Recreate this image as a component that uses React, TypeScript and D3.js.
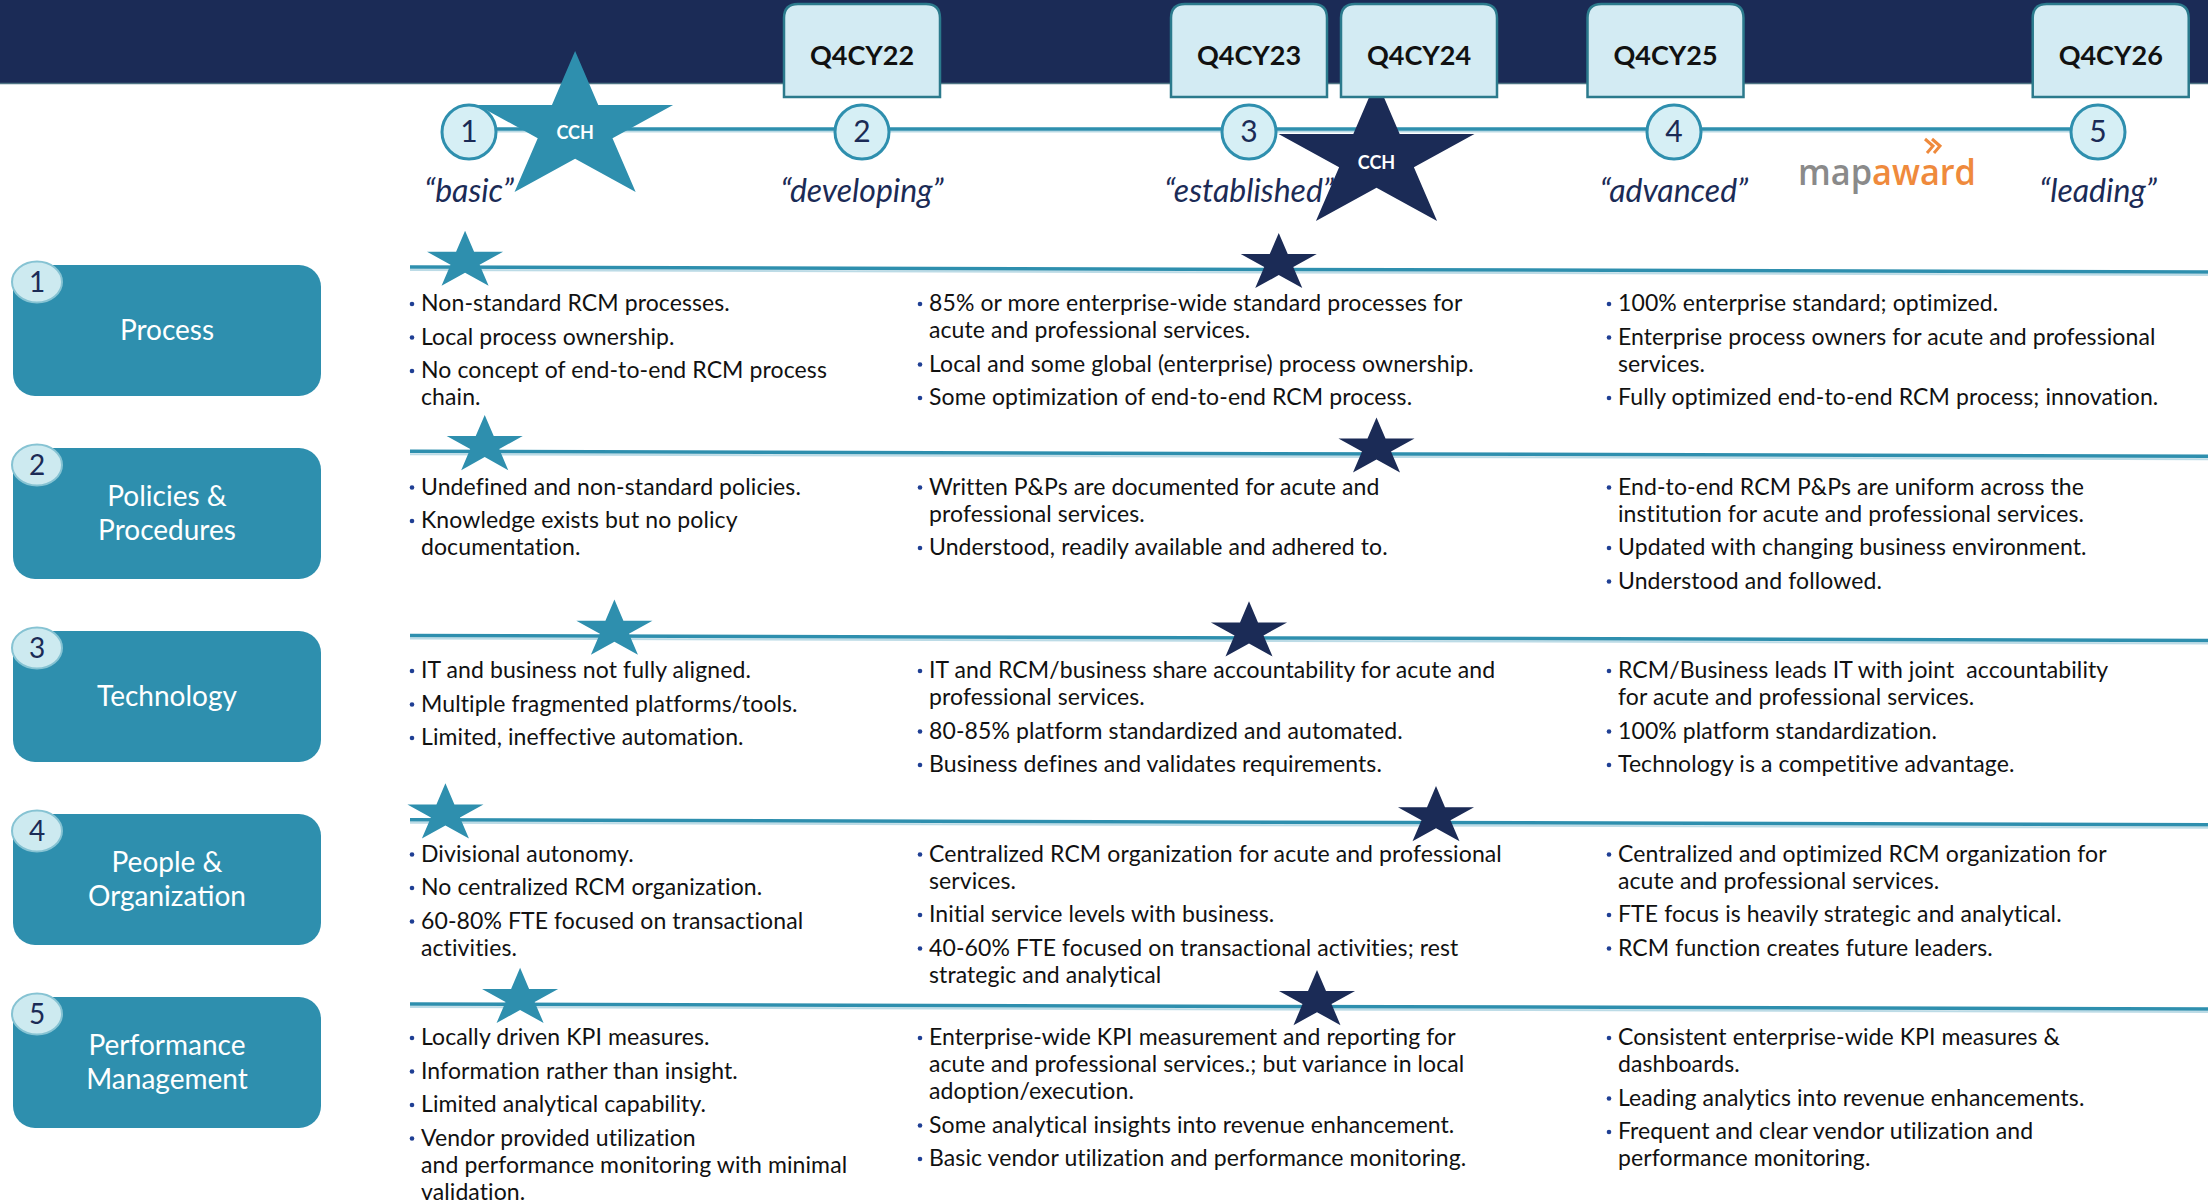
import React from 'react';
import * as d3 from 'd3';

// canvas
const W = 2208;
const H = 1204;

// maturity levels along the top timeline
const levels = [1, 2, 3, 4, 5];
const levelNames = ['“basic”', '“developing”', '“established”', '“advanced”', '“leading”'];

// milestone tabs and the level each one sits at
const milestones = ['Q4CY22', 'Q4CY23', 'Q4CY24', 'Q4CY25', 'Q4CY26'];
const milestoneLevels = [2.0, 3.0, 3.4, 3.98, 5.03];

// overall CCH position: today and target
const cchCurrent = 1.27;
const cchTarget = 3.3;

// the five dimensions
const dimensions = [
  ['Process'],
  ['Policies &', 'Procedures'],
  ['Technology'],
  ['People &', 'Organization'],
  ['Performance', 'Management'],
];
const currentLevels = [0.99, 1.04, 1.37, 0.94, 1.13];
const targetLevels = [3.07, 3.3, 3.0, 3.44, 3.16];

// bullet text per column (each item is a list of wrapped lines)
const basicText = [
  [['Non-standard RCM processes.'], ['Local process ownership.'], ['No concept of end-to-end RCM process', 'chain.']],
  [['Undefined and non-standard policies.'], ['Knowledge exists but no policy', 'documentation.']],
  [['IT and business not fully aligned.'], ['Multiple fragmented platforms/tools.'], ['Limited, ineffective automation.']],
  [['Divisional autonomy.'], ['No centralized RCM organization.'], ['60-80% FTE focused on transactional', 'activities.']],
  [
    ['Locally driven KPI measures.'],
    ['Information rather than insight.'],
    ['Limited analytical capability.'],
    ['Vendor provided utilization', 'and performance monitoring with minimal', 'validation.'],
  ],
];
const establishedText = [
  [
    ['85% or more enterprise-wide standard processes for', 'acute and professional services.'],
    ['Local and some global (enterprise) process ownership.'],
    ['Some optimization of end-to-end RCM process.'],
  ],
  [['Written P&Ps are documented for acute and', 'professional services.'], ['Understood, readily available and adhered to.']],
  [
    ['IT and RCM/business share accountability for acute and', 'professional services.'],
    ['80-85% platform standardized and automated.'],
    ['Business defines and validates requirements.'],
  ],
  [
    ['Centralized RCM organization for acute and professional', 'services.'],
    ['Initial service levels with business.'],
    ['40-60% FTE focused on transactional activities; rest', 'strategic and analytical'],
  ],
  [
    ['Enterprise-wide KPI measurement and reporting for', 'acute and professional services.; but variance in local', 'adoption/execution.'],
    ['Some analytical insights into revenue enhancement.'],
    ['Basic vendor utilization and performance monitoring.'],
  ],
];
const leadingText = [
  [
    ['100% enterprise standard; optimized.'],
    ['Enterprise process owners for acute and professional', 'services.'],
    ['Fully optimized end-to-end RCM process; innovation.'],
  ],
  [
    ['End-to-end RCM P&Ps are uniform across the', 'institution for acute and professional services.'],
    ['Updated with changing business environment.'],
    ['Understood and followed.'],
  ],
  [
    ['RCM/Business leads IT with joint  accountability', 'for acute and professional services.'],
    ['100% platform standardization.'],
    ['Technology is a competitive advantage.'],
  ],
  [
    ['Centralized and optimized RCM organization for', 'acute and professional services.'],
    ['FTE focus is heavily strategic and analytical.'],
    ['RCM function creates future leaders.'],
  ],
  [
    ['Consistent enterprise-wide KPI measures &', 'dashboards.'],
    ['Leading analytics into revenue enhancements.'],
    ['Frequent and clear vendor utilization and', 'performance monitoring.'],
  ],
];
const columns = [basicText, establishedText, leadingText];

const NAVY = '#1b2b56';
const TEAL = '#2e8fae';
const BODY_FONT = 'Lato, "Open Sans", sans-serif';

const x = d3.scaleLinear().domain(levels).range([469, 862, 1249, 1674, 2098]);
const rowRule = d3.scaleLinear().domain([0, 4]).range([267, 1004]);
const rowText = d3.scaleLinear().domain([0, 4]).range([311, 1045]);
const rowMid = d3.scaleLinear().domain([0, 4]).range([330, 1062]);
const colX = [421, 929, 1618];

const ruleX0 = 410;
const ruleAt = (i: number, xx: number) => rowRule(i) + (5 * (xx - ruleX0)) / (W - ruleX0);

// unit star (outer radius 1), stretched per use
const starPath = d3.symbol(d3.symbolStar, 1 / 0.8908130915292852)() as string;

const tabPath = (x0: number, y0: number, w: number, h: number, r: number) =>
  `M${x0},${y0 + h}V${y0 + r}Q${x0},${y0} ${x0 + r},${y0}H${x0 + w - r}Q${x0 + w},${y0} ${x0 + w},${y0 + r}V${y0 + h}Z`;

function Bullets({ items, x0, y0 }: { items: string[][]; x0: number; y0: number }) {
  let y = y0;
  const out: React.ReactNode[] = [];
  items.forEach((lines, k) => {
    out.push(<circle key={'b' + k} cx={x0 - 9} cy={y - 7} r={2.3} fill="#1f3f94" />);
    lines.forEach((ln, j) => {
      out.push(
        <text key={k + '-' + j} x={x0} y={y} xmlSpace="preserve">
          {ln}
        </text>
      );
      y += 27;
    });
    y += 6.5;
  });
  return <g>{out}</g>;
}

export default function App() {
  const tlY = 129;
  return (
    <svg
      width={W}
      height={H}
      viewBox={`0 0 ${W} ${H}`}
      style={{ position: 'absolute', left: 0, top: 0, background: '#fff' }}
    >
      {/* header band */}
      <rect x={0} y={0} width={W} height={83} fill={NAVY} />
      <line x1={0} x2={W} y1={83.5} y2={83.5} stroke="#4f7585" strokeWidth={1.5} />

      {/* timeline */}
      <line x1={x(1)} x2={x(5) + 25} y1={tlY + 2.5} y2={tlY + 2.5} stroke="#b9d9e4" strokeWidth={2} />
      <line x1={x(1)} x2={x(5) + 25} y1={tlY} y2={tlY} stroke={TEAL} strokeWidth={3.5} />
      {levels.map((l) => (
        <g key={l}>
          <circle cx={x(l)} cy={132} r={27} fill="#d6eff5" stroke={TEAL} strokeWidth={3} />
          <text x={x(l)} y={142} textAnchor="middle" fontFamily={BODY_FONT} fontSize={30} fill={NAVY}>
            {l}
          </text>
        </g>
      ))}
      {levels.map((l, i) => (
        <text
          key={'n' + l}
          x={x(l)}
          y={202}
          textAnchor="middle"
          fontFamily={BODY_FONT}
          fontStyle="italic"
          fontSize={32}
          fill={NAVY}
        >
          {levelNames[i]}
        </text>
      ))}

      {/* mapaward mark */}
      <g>
        <text
          x={1798}
          y={185}
          fontFamily='"Open Sans", sans-serif'
          fontWeight={600}
          fontSize={36}
          textLength={178}
          lengthAdjust="spacingAndGlyphs"
        >
          <tspan fill="#8a8a8a">map</tspan>
          <tspan fill="#ef8a3c">award</tspan>
        </text>
        <path
          d="M1925,139 L1933,146 L1927,153 M1932,139 L1940,146 L1934,153"
          fill="none"
          stroke="#ef8a3c"
          strokeWidth={3}
        />
      </g>

      {/* row rules */}
      {dimensions.map((_, i) => (
        <g key={'r' + i}>
          <line x1={ruleX0} x2={W} y1={rowRule(i) + 3} y2={rowRule(i) + 8} stroke="#bcdbe6" strokeWidth={2} />
          <line x1={ruleX0} x2={W} y1={rowRule(i)} y2={rowRule(i) + 5} stroke={TEAL} strokeWidth={3.5} />
        </g>
      ))}

      {/* bullet text */}
      <g fontFamily={BODY_FONT} fontSize={23} letterSpacing={0.1} fill="#111">
        {columns.map((col, c) =>
          col.map((items, i) => <Bullets key={c + '-' + i} items={items} x0={colX[c]} y0={rowText(i)} />)
        )}
      </g>

      {/* dimension boxes */}
      {dimensions.map((lines, i) => {
        const cy = rowMid(i);
        return (
          <g key={'d' + i}>
            <rect x={13} y={cy - 65} width={308} height={131} rx={22} fill={TEAL} />
            {lines.map((ln, j) => (
              <text
                key={j}
                x={167}
                y={lines.length === 1 ? cy + 10 : cy - 7 + j * 34}
                textAnchor="middle"
                fontFamily={BODY_FONT}
                fontSize={28}
                fill="#fff"
              >
                {ln}
              </text>
            ))}
            <ellipse cx={37} cy={cy - 48} rx={25} ry={20.5} fill="#cdeaf0" stroke="#86c3d3" strokeWidth={2} />
            <text x={37} y={cy - 38} textAnchor="middle" fontFamily={BODY_FONT} fontSize={28} fill={NAVY}>
              {i + 1}
            </text>
          </g>
        );
      })}

      {/* row stars: current (teal) and target (navy) */}
      {currentLevels.map((l, i) => (
        <path
          key={'cs' + i}
          d={starPath}
          fill={TEAL}
          transform={`translate(${x(l)},${ruleAt(i, x(l)) - 6}) scale(40,30.5)`}
        />
      ))}
      {targetLevels.map((l, i) => (
        <path
          key={'ts' + i}
          d={starPath}
          fill={NAVY}
          transform={`translate(${x(l)},${ruleAt(i, x(l)) - 6}) scale(40,30.5)`}
        />
      ))}

      {/* overall CCH stars */}
      <path d={starPath} fill={TEAL} transform={`translate(${x(cchCurrent)},129) scale(103,78)`} />
      <text x={x(cchCurrent)} y={139} textAnchor="middle" fontFamily={BODY_FONT} fontWeight={700} fontSize={18} fill="#fff">
        CCH
      </text>
      <path d={starPath} fill={NAVY} transform={`translate(${x(cchTarget)},158) scale(103,78)`} />
      <text x={x(cchTarget)} y={169} textAnchor="middle" fontFamily={BODY_FONT} fontWeight={700} fontSize={18} fill="#fff">
        CCH
      </text>

      {/* milestone tabs */}
      {milestones.map((m, i) => {
        const cx = x(milestoneLevels[i]);
        return (
          <g key={m}>
            <path d={tabPath(cx - 78, 4, 156, 93, 14)} fill="#d3ebf3" stroke="#2b7a8c" strokeWidth={2.5} />
            <text x={cx} y={65} textAnchor="middle" fontFamily={BODY_FONT} fontWeight={700} fontSize={27} fill="#111">
              {m}
            </text>
          </g>
        );
      })}
    </svg>
  );
}
